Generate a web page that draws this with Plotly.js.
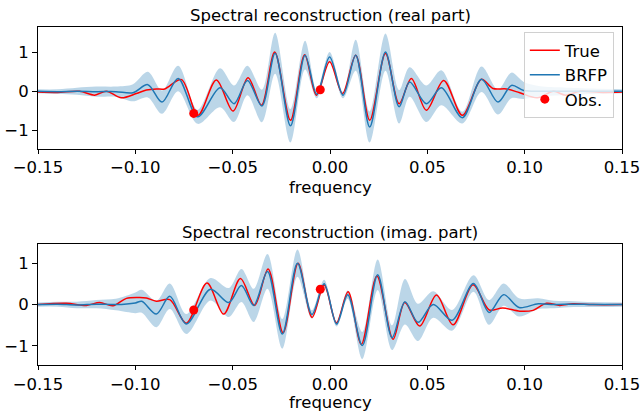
<!DOCTYPE html>
<html>
<head>
<meta charset="utf-8">
<script src="https://cdn.plot.ly/plotly-3.0.1.min.js"></script>
<style>html,body{margin:0;padding:0;background:#fff;}#chart{width:642px;height:413px;}</style>
</head>
<body>
<div id="chart"></div>
<script>
// ---------- Real part ----------
const trueReFreq = [-0.15, -0.14, -0.1286, -0.1209, -0.1149, -0.1072, -0.0995, -0.0943, -0.0892, -0.0849, -0.0763, -0.0678, -0.0584, -0.0498, -0.0421, -0.0352, -0.0284, -0.0203, -0.013, -0.007, -0.0002, 0.0064, 0.0132, 0.0204, 0.0285, 0.0355, 0.0418, 0.0495, 0.0584, 0.068, 0.0778, 0.0837, 0.0906, 0.0975, 0.1065, 0.1149, 0.1209, 0.1286, 0.14, 0.15];
const trueRe     = [-0.02, -0.03, 0.0, -0.1, 0.0, -0.17, -0.06, 0.03, 0.06, 0.06, 0.3, -0.62, 0.29, -0.51, 0.35, -0.36, 1.01, -0.75, 0.94, -0.1, 0.76, -0.06, 0.93, -0.75, 0.97, -0.32, 0.33, -0.49, 0.28, -0.62, 0.31, 0.07, 0.06, -0.04, -0.17, 0.0, -0.1, 0.0, -0.03, -0.02];

const brfpReFreq = [-0.15, -0.14, -0.13, -0.12, -0.11, -0.1012, -0.0936, -0.0863, -0.078, -0.068, -0.0565, -0.0493, -0.0424, -0.035, -0.0282, -0.0203, -0.0128, -0.0068, -0.0002, 0.0067, 0.0132, 0.0204, 0.0285, 0.0355, 0.0409, 0.0495, 0.0572, 0.068, 0.0778, 0.0863, 0.0932, 0.0995, 0.108, 0.12, 0.135, 0.15];
const brfpRe     = [0.0, -0.01, 0.0, -0.01, -0.01, -0.04, 0.17, -0.28, 0.33, -0.66, 0.09, -0.32, 0.28, -0.38, 0.98, -0.89, 0.93, -0.08, 0.88, -0.1, 0.93, -0.92, 1.01, -0.4, 0.24, -0.32, 0.09, -0.68, 0.31, -0.28, 0.15, 0.02, 0.0, 0.0, 0.0, 0.0];
const brfpReSpread = [0.05, 0.06, 0.09, 0.13, 0.13, 0.22, 0.33, 0.3, 0.33, 0.18, 0.5, 0.47, 0.38, 0.42, 0.53, 0.43, 0.37, 0.1, 0.13, 0.08, 0.4, 0.4, 0.48, 0.43, 0.38, 0.47, 0.45, 0.15, 0.33, 0.32, 0.33, 0.22, 0.13, 0.1, 0.07, 0.05];

// ---------- Imaginary part ----------
const trueImFreq = [-0.15, -0.1354, -0.1251, -0.1183, -0.1115, -0.1046, -0.0978, -0.0943, -0.0892, -0.0823, -0.0738, -0.0632, -0.0546, -0.046, -0.0387, -0.0318, -0.0241, -0.0164, -0.0092, -0.003, 0.0033, 0.0093, 0.0161, 0.0241, 0.0324, 0.0384, 0.0461, 0.0547, 0.0632, 0.0735, 0.0818, 0.0887, 0.0975, 0.1043, 0.1112, 0.118, 0.1248, 0.135, 0.15];
const trueIm     = [0.0, 0.03, -0.02, 0.05, -0.03, 0.15, 0.17, 0.16, 0.08, 0.12, -0.45, 0.52, -0.23, 0.63, -0.02, 0.86, -0.68, 1.0, -0.31, 0.47, -0.44, 0.31, -0.96, 0.69, -0.84, 0.05, -0.52, 0.23, -0.49, 0.48, -0.13, -0.08, -0.16, -0.14, 0.03, -0.02, 0.02, 0.0, 0.0];

const brfpImFreq = [-0.15, -0.14, -0.13, -0.12, -0.11, -0.1, -0.0967, -0.0892, -0.0823, -0.0738, -0.0614, -0.052, -0.0455, -0.0392, -0.0321, -0.0245, -0.0167, -0.0093, -0.003, 0.0034, 0.0091, 0.0166, 0.0245, 0.0319, 0.0385, 0.0452, 0.053, 0.0627, 0.0737, 0.0817, 0.0892, 0.0971, 0.107, 0.115, 0.125, 0.135, 0.15];
const brfpIm     = [0.0, 0.01, -0.01, 0.01, 0.0, 0.04, 0.08, -0.23, 0.2, -0.47, 0.37, 0.05, 0.46, -0.02, 0.8, -0.71, 1.0, -0.24, 0.5, -0.47, 0.24, -0.99, 0.72, -0.8, 0.07, -0.43, 0.0, -0.38, 0.51, -0.19, 0.24, -0.07, 0.02, 0.0, 0.01, 0.0, 0.0];
const brfpImSpread = [0.05, 0.06, 0.08, 0.1, 0.14, 0.25, 0.28, 0.32, 0.31, 0.24, 0.27, 0.35, 0.4, 0.4, 0.42, 0.36, 0.33, 0.1, 0.1, 0.06, 0.1, 0.33, 0.37, 0.3, 0.55, 0.45, 0.32, 0.25, 0.2, 0.3, 0.27, 0.22, 0.13, 0.09, 0.07, 0.06, 0.05];

// ---------- Observations ----------
const obsFreq = [-0.07, -0.005];
const obsRe = [-0.57, 0.04];
const obsIm = [-0.13, 0.37];

const xTicks = [-0.15, -0.10, -0.05, 0.00, 0.05, 0.10, 0.15];
const yTicks = [-1, 0, 1];

const RED = '#ff0000', BLUE = '#1f77b4', BAND = 'rgba(31,119,180,0.3)';
const FONT = 'DejaVu Sans, sans-serif';
const FS = 16.5;
const H = 413;

function bandTraces(xs, mean, spread, xa, ya) {
  const lo = mean.map((m, i) => m - spread[i]);
  const hi = mean.map((m, i) => m + spread[i]);
  return [
    {x: xs, y: lo, xaxis: xa, yaxis: ya, mode: 'lines', line: {width: 0, shape: 'spline', smoothing: 0.9}, showlegend: false, hoverinfo: 'skip'},
    {x: xs, y: hi, xaxis: xa, yaxis: ya, mode: 'lines', line: {width: 0, shape: 'spline', smoothing: 0.9}, fill: 'tonexty', fillcolor: BAND, showlegend: false, hoverinfo: 'skip'}
  ];
}

const traces = [
  ...bandTraces(brfpReFreq, brfpRe, brfpReSpread, 'x', 'y'),
  {x: trueReFreq, y: trueRe, xaxis: 'x', yaxis: 'y', mode: 'lines', name: 'True', line: {color: RED, width: 1.5, shape: 'spline', smoothing: 0.9}},
  {x: brfpReFreq, y: brfpRe, xaxis: 'x', yaxis: 'y', mode: 'lines', name: 'BRFP', line: {color: BLUE, width: 1.5, shape: 'spline', smoothing: 0.9}},
  {x: obsFreq, y: obsRe, xaxis: 'x', yaxis: 'y', mode: 'markers', name: 'Obs.', marker: {color: RED, size: 9}},
  ...bandTraces(brfpImFreq, brfpIm, brfpImSpread, 'x2', 'y2'),
  {x: trueImFreq, y: trueIm, xaxis: 'x2', yaxis: 'y2', mode: 'lines', name: 'True', showlegend: false, line: {color: RED, width: 1.5, shape: 'spline', smoothing: 0.9}},
  {x: brfpImFreq, y: brfpIm, xaxis: 'x2', yaxis: 'y2', mode: 'lines', name: 'BRFP', showlegend: false, line: {color: BLUE, width: 1.5, shape: 'spline', smoothing: 0.9}},
  {x: obsFreq, y: obsIm, xaxis: 'x2', yaxis: 'y2', mode: 'markers', name: 'Obs.', showlegend: false, marker: {color: RED, size: 9}}
];

function xAxis(anchor) {
  return {
    anchor: anchor, domain: [0, 1], range: [-0.15, 0.15],
    tickvals: xTicks, tickformat: '.2f',
    showline: true, mirror: true, linecolor: '#000', linewidth: 1,
    ticks: 'outside', ticklen: 4, tickcolor: '#000', showgrid: false, zeroline: false,
    tickfont: {family: FONT, size: FS, color: '#000'}
  };
}
function yAxis(anchor, domain, range) {
  return {
    anchor: anchor, domain: domain, range: range,
    tickvals: yTicks,
    showline: true, mirror: true, linecolor: '#000', linewidth: 1,
    ticks: 'outside', ticklen: 5, tickcolor: '#000', showgrid: false, zeroline: false,
    tickfont: {family: FONT, size: FS, color: '#000'}
  };
}

function label(text, yFrac, anchor) {
  return {text: text, xref: 'paper', yref: 'paper', x: 0.5, y: yFrac,
    xanchor: 'center', yanchor: anchor || 'middle', showarrow: false, borderpad: 0,
    font: {family: FONT, size: FS, color: '#000'}};
}

const layout = {
  width: 642, height: H,
  margin: {l: 38, r: 20, t: 0, b: 0},
  paper_bgcolor: '#fff', plot_bgcolor: '#fff',
  font: {family: FONT, size: FS, color: '#000'},
  xaxis: xAxis('y'),
  yaxis: yAxis('x', [0.640, 0.935], [-1.48, 1.66]),
  xaxis2: xAxis('y2'),
  yaxis2: yAxis('x2', [0.1162, 0.4099], [-1.46, 1.47]),
  showlegend: true,
  legend: {
    x: 0.986, xanchor: 'right', y: 1 - 32 / H, yanchor: 'top',
    traceorder: 'normal',
    bgcolor: 'rgba(255,255,255,0.8)', bordercolor: '#d0d0d0', borderwidth: 1,
    font: {family: FONT, size: FS, color: '#000'}, tracegroupgap: 0, itemwidth: 30
  },
  annotations: [
    label('Spectral reconstruction (real part)', 1 - 15.5 / H),
    label('frequency', 1 - 176.5 / H, 'top'),
    label('Spectral reconstruction (imag. part)', 1 - 232.5 / H),
    label('frequency', 0, 'bottom')
  ]
};

Plotly.newPlot('chart', traces, layout, {displayModeBar: false, staticPlot: true});
</script>
</body>
</html>
